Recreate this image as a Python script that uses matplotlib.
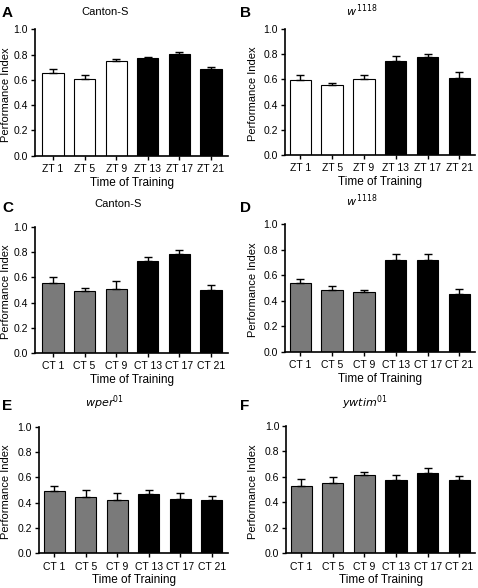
import matplotlib
matplotlib.use("Agg")
import matplotlib.pyplot as plt

plt.rcParams['font.family'] = ['Liberation Sans', 'DejaVu Sans']

zt_labels = ["ZT 1", "ZT 5", "ZT 9", "ZT 13", "ZT 17", "ZT 21"]
ct_labels = ["CT 1", "CT 5", "CT 9", "CT 13", "CT 17", "CT 21"]

a_vals = [0.657, 0.609, 0.747, 0.773, 0.802, 0.683]
a_err = [0.029, 0.029, 0.021, 0.011, 0.016, 0.021]
b_vals = [0.593, 0.558, 0.603, 0.746, 0.780, 0.614]
b_err = [0.042, 0.013, 0.035, 0.042, 0.022, 0.047]
c_vals = [0.553, 0.494, 0.510, 0.730, 0.790, 0.503]
c_err = [0.050, 0.018, 0.062, 0.030, 0.030, 0.036]
d_vals = [0.537, 0.484, 0.466, 0.720, 0.723, 0.450]
d_err = [0.031, 0.034, 0.021, 0.044, 0.041, 0.040]
e_vals = [0.495, 0.447, 0.418, 0.471, 0.426, 0.421]
e_err = [0.034, 0.050, 0.056, 0.032, 0.048, 0.034]
f_vals = [0.531, 0.555, 0.615, 0.576, 0.628, 0.576]
f_err = [0.053, 0.047, 0.021, 0.042, 0.042, 0.031]

colors_zt = ["white"] * 3 + ["black"] * 3
colors_ct = ["#7a7a7a"] * 3 + ["black"] * 3

W, H = 478, 588
fig = plt.figure(figsize=(W / 100, H / 100), dpi=100)

# (letter, title, vals, err, labels, colors, left, right, top, bottom px, xlim, title x, title y, ylabel x)
panels = [
    ("A", "Canton-S", a_vals, a_err, zt_labels, colors_zt, 35, 228, 29.3, 155.7, (-0.57, 5.54), 105, 12, 6.5),
    ("B", r"$\it{w}$$^{\,1118}$", b_vals, b_err, zt_labels, colors_zt, 284.7, 475, 29, 155, (-0.49, 5.49), 362, 11, 253.5),
    ("C", "Canton-S", c_vals, c_err, ct_labels, colors_ct, 35, 228, 227.3, 352.7, (-0.57, 5.54), 118, 204, 6.5),
    ("D", r"$\it{w}$$^{\,1118}$", d_vals, d_err, ct_labels, colors_ct, 284.7, 475, 224.3, 351.7, (-0.49, 5.49), 362, 201, 253.5),
    ("E", r"$\it{wper}$$^{\it{01}}$", e_vals, e_err, ct_labels, colors_ct, 39, 228, 426.7, 553.3, (-0.49, 5.51), 104, 403, 6.5),
    ("F", r"$\it{ywtim}$$^{\it{01}}$", f_vals, f_err, ct_labels, colors_ct, 286.3, 475, 426, 553.3, (-0.47, 5.5), 365, 403, 253.5),
]

letter_pos = {"A": (2, 13), "B": (240, 13), "C": (2, 208), "D": (240, 208), "E": (2, 406), "F": (240, 406)}

for letter, title, vals, err, labels, colors, l, r, t, b, xlim, tx, ty, ylx in panels:
    ax = fig.add_axes([l / W, 1 - b / H, (r - l) / W, (b - t) / H])
    x = list(range(len(vals)))
    ax.bar(x, vals, width=0.67, color=colors, edgecolor="black", linewidth=0.8, zorder=2)
    ax.errorbar(x, vals, yerr=[[0] * len(err), err], fmt="none", ecolor="black",
                elinewidth=1.0, capsize=2.6, capthick=1.0, zorder=3)
    ax.set_ylim(0, 1.0)
    ax.set_xlim(*xlim)
    ax.set_yticks([0.0, 0.2, 0.4, 0.6, 0.8, 1.0])
    ax.set_yticklabels(["0.0", "0.2", "0.4", "0.6", "0.8", "1.0"])
    ax.set_xticks(x)
    ax.set_xticklabels(labels)
    ax.tick_params(axis="both", direction="out", length=3, width=1.0, labelsize=7.5, pad=2)
    ax.tick_params(axis="x", pad=3)
    for s in ["top", "right"]:
        ax.spines[s].set_visible(False)
    for s in ["left", "bottom"]:
        ax.spines[s].set_linewidth(1.2)
    ax.set_xlabel("Time of Training", fontsize=8.5, labelpad=2)
    fig.text(ylx / W, 1 - ((t + b) / 2 + 2) / H, "Performance Index", rotation=90,
             ha="center", va="center", fontsize=8)
    fig.text(tx / W, 1 - ty / H, title, ha="center", va="center", fontsize=8)
    lx, ly = letter_pos[letter]
    fig.text(lx / W, 1 - ly / H, letter, ha="left", va="center", fontsize=11, fontweight="bold")

fig.savefig("out.png", dpi=100)
